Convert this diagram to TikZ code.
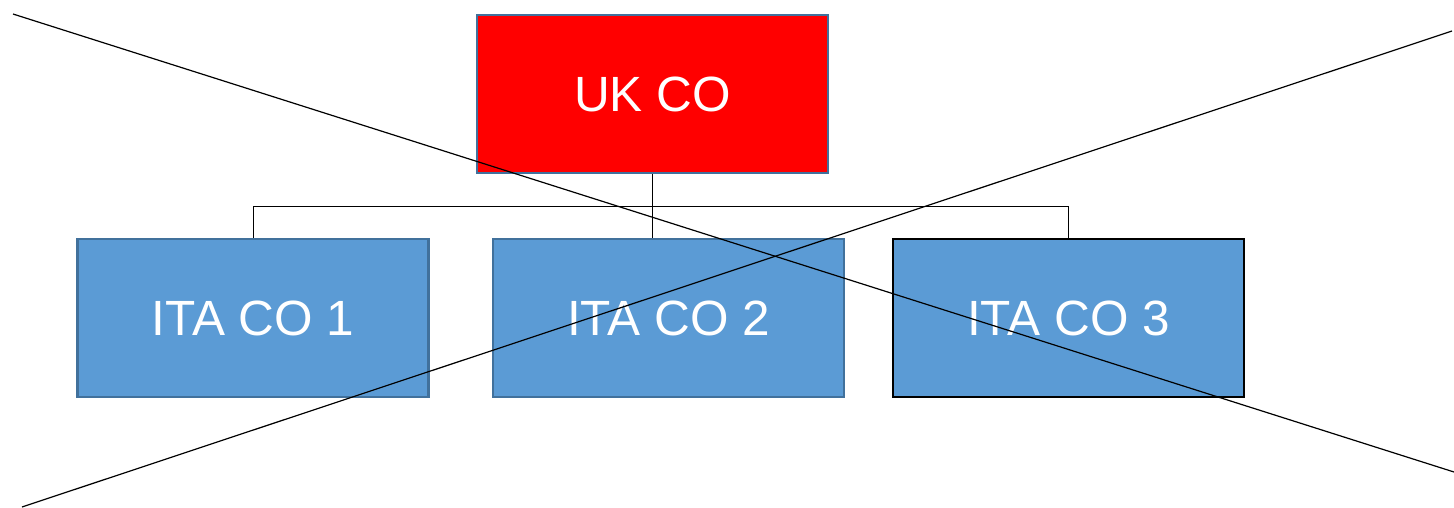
\documentclass[tikz,border=0pt]{standalone}
\usepackage{fontspec}
\setmainfont{Liberation Sans}
\definecolor{boxred}{HTML}{FF0000}
\definecolor{boxblue}{HTML}{5B9BD5}
\definecolor{boxedge}{HTML}{41719C}
\begin{document}
\begin{tikzpicture}[x=1pt,y=-1pt,
  cobox/.style={draw=boxedge,line width=2.4pt,minimum width=351pt,minimum height=158pt,inner sep=0pt,text=white,font=\fontsize{49.5}{58}\selectfont},
  link/.style={draw=black,line width=1pt},
  crossline/.style={draw=black,line width=1.2pt}]
\useasboundingbox (0,0) rectangle (1454,507);
\fill[white] (0,0) rectangle (1454,507);
\node[cobox,fill=boxred] (uk) at (652.5,94) {UK CO};
\node[cobox,fill=boxblue] (ita1) at (253,318) {ITA CO 1};
\node[cobox,fill=boxblue] (ita2) at (668.5,318) {ITA CO 2};
\node[cobox,fill=boxblue,draw=black,line width=2.8pt] (ita3) at (1068.5,318) {ITA CO 3};
\coordinate (busy) at (0,206);
\draw[link] (uk.south) -- (uk.south |- ita2.north);
\draw[link] (ita1.north) -- (ita1.north |- busy) -- (ita3.north |- busy) -- (ita3.north);
\coordinate (c1) at (13,14);
\coordinate (c2) at (1454,472);
\coordinate (c3) at (22,507);
\coordinate (c4) at (1452,31);
\draw[crossline] (c1) -- (c2);
\draw[crossline] (c3) -- (c4);
\end{tikzpicture}
\end{document}
